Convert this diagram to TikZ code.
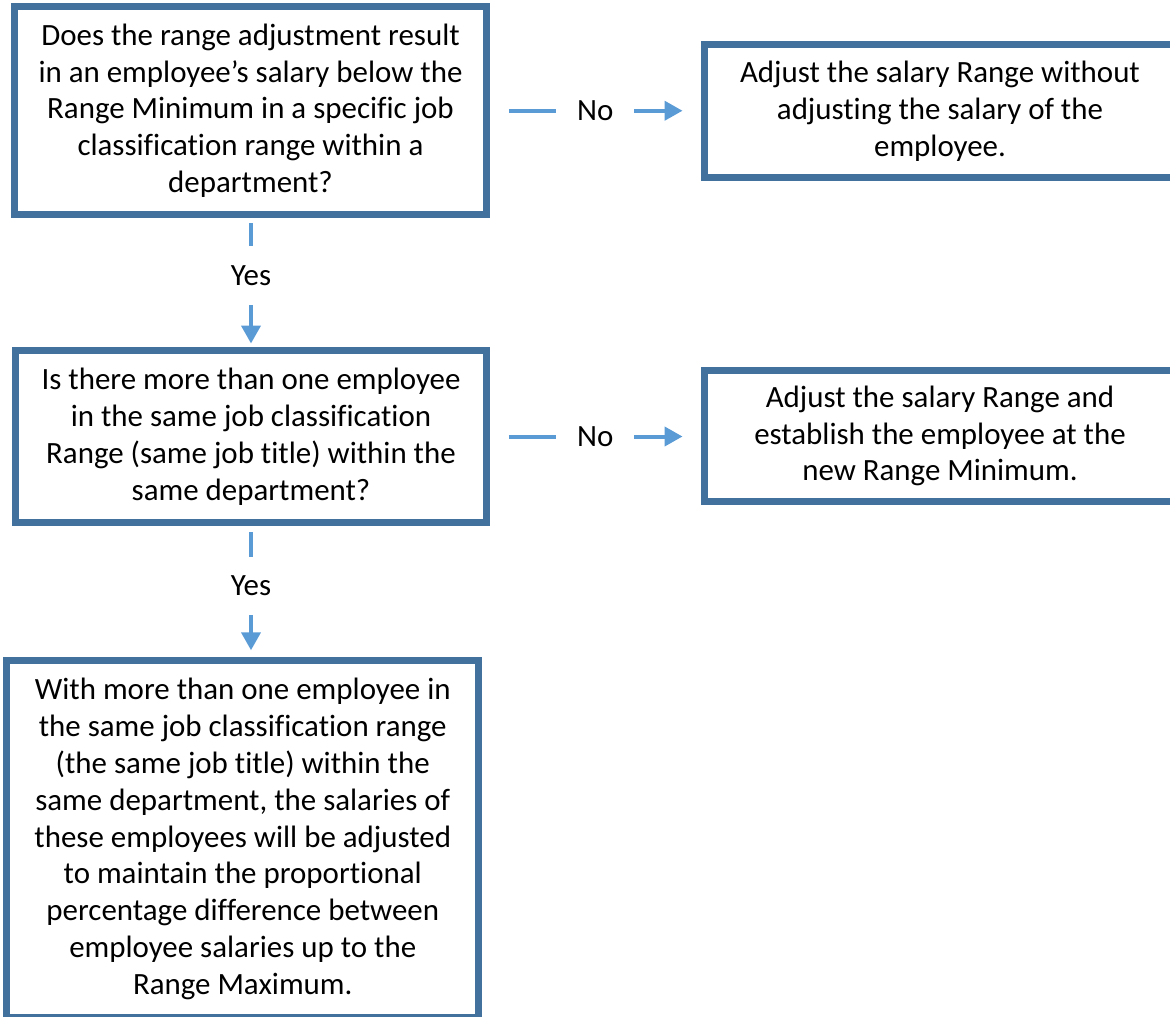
\documentclass[tikz,border=0pt]{standalone}
\usepackage{fontspec}
\setmainfont{Carlito}[Ligatures=NoCommon]
\usetikzlibrary{arrows.meta}
\definecolor{boxblue}{HTML}{41719C}
\definecolor{arrowblue}{HTML}{5B9BD5}
\tikzset{
  stepbox/.style={draw=boxblue, line width=0.14cm, align=center, inner sep=0pt},
  conn/.style={draw=arrowblue, line width=0.08cm, -{Triangle[length=0.36cm,width=0.38cm]}},
  lbl/.style={fill=white, inner sep=0pt, minimum width=1.56cm, minimum height=1.18cm}
}
\begin{document}
\begin{tikzpicture}[x=0.02cm, y=-0.02cm, font=\fontsize{17.6}{21}\selectfont]
	\useasboundingbox (0,0) rectangle (1170,1017);
	\clip (0,0) rectangle (1170,1017);

	% questions on the left
	\node[stepbox, minimum width=9.44cm, minimum height=4.17cm] (q1) at (250.5,110.75)
		{Does the range adjustment result\\ in an employee’s salary below the\\ Range Minimum in a specific job\\ classification range within a\\ department?};
	\node[stepbox, minimum width=9.42cm, minimum height=3.46cm] (q2) at (251,436.5)
		{Is there more than one employee\\ in the same job classification\\ Range (same job title) within the\\ same department?};
	\node[stepbox, minimum width=9.45cm, minimum height=7.13cm] (q3) at (242.75,839)
		{With more than one employee in\\ the same job classification range\\ (the same job title) within the\\ same department, the salaries of\\ these employees will be adjusted\\ to maintain the proportional\\ percentage difference between\\ employee salaries up to the\\ Range Maximum.};

	% outcomes on the right
	\node[stepbox, minimum width=9.44cm, minimum height=2.68cm] (r1) at (940,111)
		{Adjust the salary Range without\\ adjusting the salary of the\\ employee.};
	\node[stepbox, minimum width=9.44cm, minimum height=2.61cm] (r2) at (940,436)
		{Adjust the salary Range and\\ establish the employee at the\\ new Range Minimum.};

	% connectors
	\draw[conn, shorten <=0.38cm, shorten >=0.36cm] (q1.east) -- (q1.east -| r1.west)
		node[lbl, midway] (no1) {No};
	\draw[conn, shorten <=0.38cm, shorten >=0.36cm] (q2.east) -- (q2.east -| r2.west)
		node[lbl, midway] (no2) {No};
	\draw[conn, shorten <=0.1cm, shorten >=0.06cm] (q1.south -| 251,0) -- (q2.north -| 251,0)
		node[lbl, pos=0.445] (yes1) {Yes};
	\draw[conn, shorten <=0.12cm, shorten >=0.14cm] (q2.south -| 251,0) -- (q3.north -| 251,0)
		node[lbl, pos=0.455] (yes2) {Yes};
\end{tikzpicture}
\end{document}
